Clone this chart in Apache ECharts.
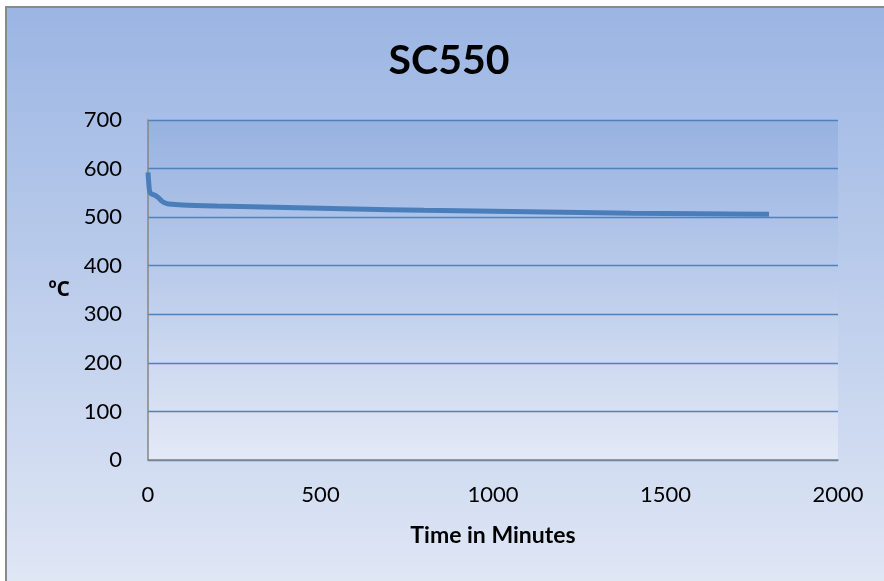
<!DOCTYPE html>
<html>
<head>
<meta charset="utf-8">
<script src="https://cdn.jsdelivr.net/npm/echarts@6/dist/echarts.min.js"></script>
<style>
html,body{margin:0;padding:0;background:#ffffff;overflow:hidden;width:884px;height:581px;}
#wrap{position:absolute;left:5px;top:6px;width:884px;height:580px;border-left:2px solid #8a8a8a;border-top:2px solid #8a8a8a;}
#chart{width:884px;height:580px;}
</style>
</head>
<body>
<div id="wrap"><div id="chart"></div></div>
<script>
var timeMinutes = [0, 2, 5, 10, 20, 30, 40, 50, 60, 100, 200, 400, 600, 800, 1000, 1200, 1400, 1600, 1800];
var temperatureC = [592, 572, 552, 548, 545, 540, 533, 529, 527, 525, 523, 520, 517, 514, 512, 510, 508, 507, 506];
var xTicks = [0, 500, 1000, 1500, 2000];
var yTicks = [0, 100, 200, 300, 400, 500, 600, 700];

var points = timeMinutes.map(function (t, i) { return [t, temperatureC[i]]; });
var chart = echarts.init(document.getElementById('chart'));
var font = 'Lato, "Open Sans", sans-serif';
chart.setOption({
  backgroundColor: new echarts.graphic.LinearGradient(0, 0, 0, 1, [
    {offset: 0, color: '#9bb5e3'},
    {offset: 1, color: '#e0e7f5'}
  ]),
  animation: false,
  title: {
    text: 'SC550', left: 'center', top: 27,
    textStyle: {fontFamily: font, fontWeight: 'bold', fontSize: 41, color: '#000'}
  },
  grid: {
    left: 141, top: 112, width: 690, height: 340, show: true, borderWidth: 0,
    backgroundColor: new echarts.graphic.LinearGradient(0, 0, 0, 1, [
      {offset: 0, color: '#97b2e1'},
      {offset: 1, color: '#e3e9f6'}
    ])
  },
  xAxis: {
    type: 'value', min: xTicks[0], max: xTicks[xTicks.length - 1], interval: 500,
    name: 'Time in Minutes', nameLocation: 'middle', nameGap: 64,
    nameTextStyle: {fontFamily: font, fontWeight: 'bold', fontSize: 23, color: '#000'},
    axisLine: {show: true, lineStyle: {color: '#868686', width: 1.5}},
    axisTick: {show: false},
    splitLine: {show: false},
    axisLabel: {fontFamily: font, fontSize: 22, color: '#000', margin: 24,
      formatter: function (v) { return String(v); }}
  },
  yAxis: {
    type: 'value', min: yTicks[0], max: yTicks[yTicks.length - 1], interval: 100,
    name: 'ºC', nameLocation: 'middle', nameRotate: 0, nameGap: 78,
    nameTextStyle: {fontFamily: '"Open Sans", Lato, sans-serif', fontWeight: 'bold', fontSize: 21, color: '#000'},
    axisLine: {show: true, lineStyle: {color: '#868686', width: 1.5}},
    axisTick: {show: false},
    splitLine: {show: true, lineStyle: {color: '#4f81bd', width: 1.3}},
    axisLabel: {fontFamily: font, fontSize: 22, color: '#000', margin: 26,
      formatter: function (v) { return String(v); }}
  },
  series: [{
    type: 'line', data: points, showSymbol: false, smooth: 0.3,
    lineStyle: {color: '#4a7ebb', width: 5}
  }]
});
</script>
</body>
</html>
